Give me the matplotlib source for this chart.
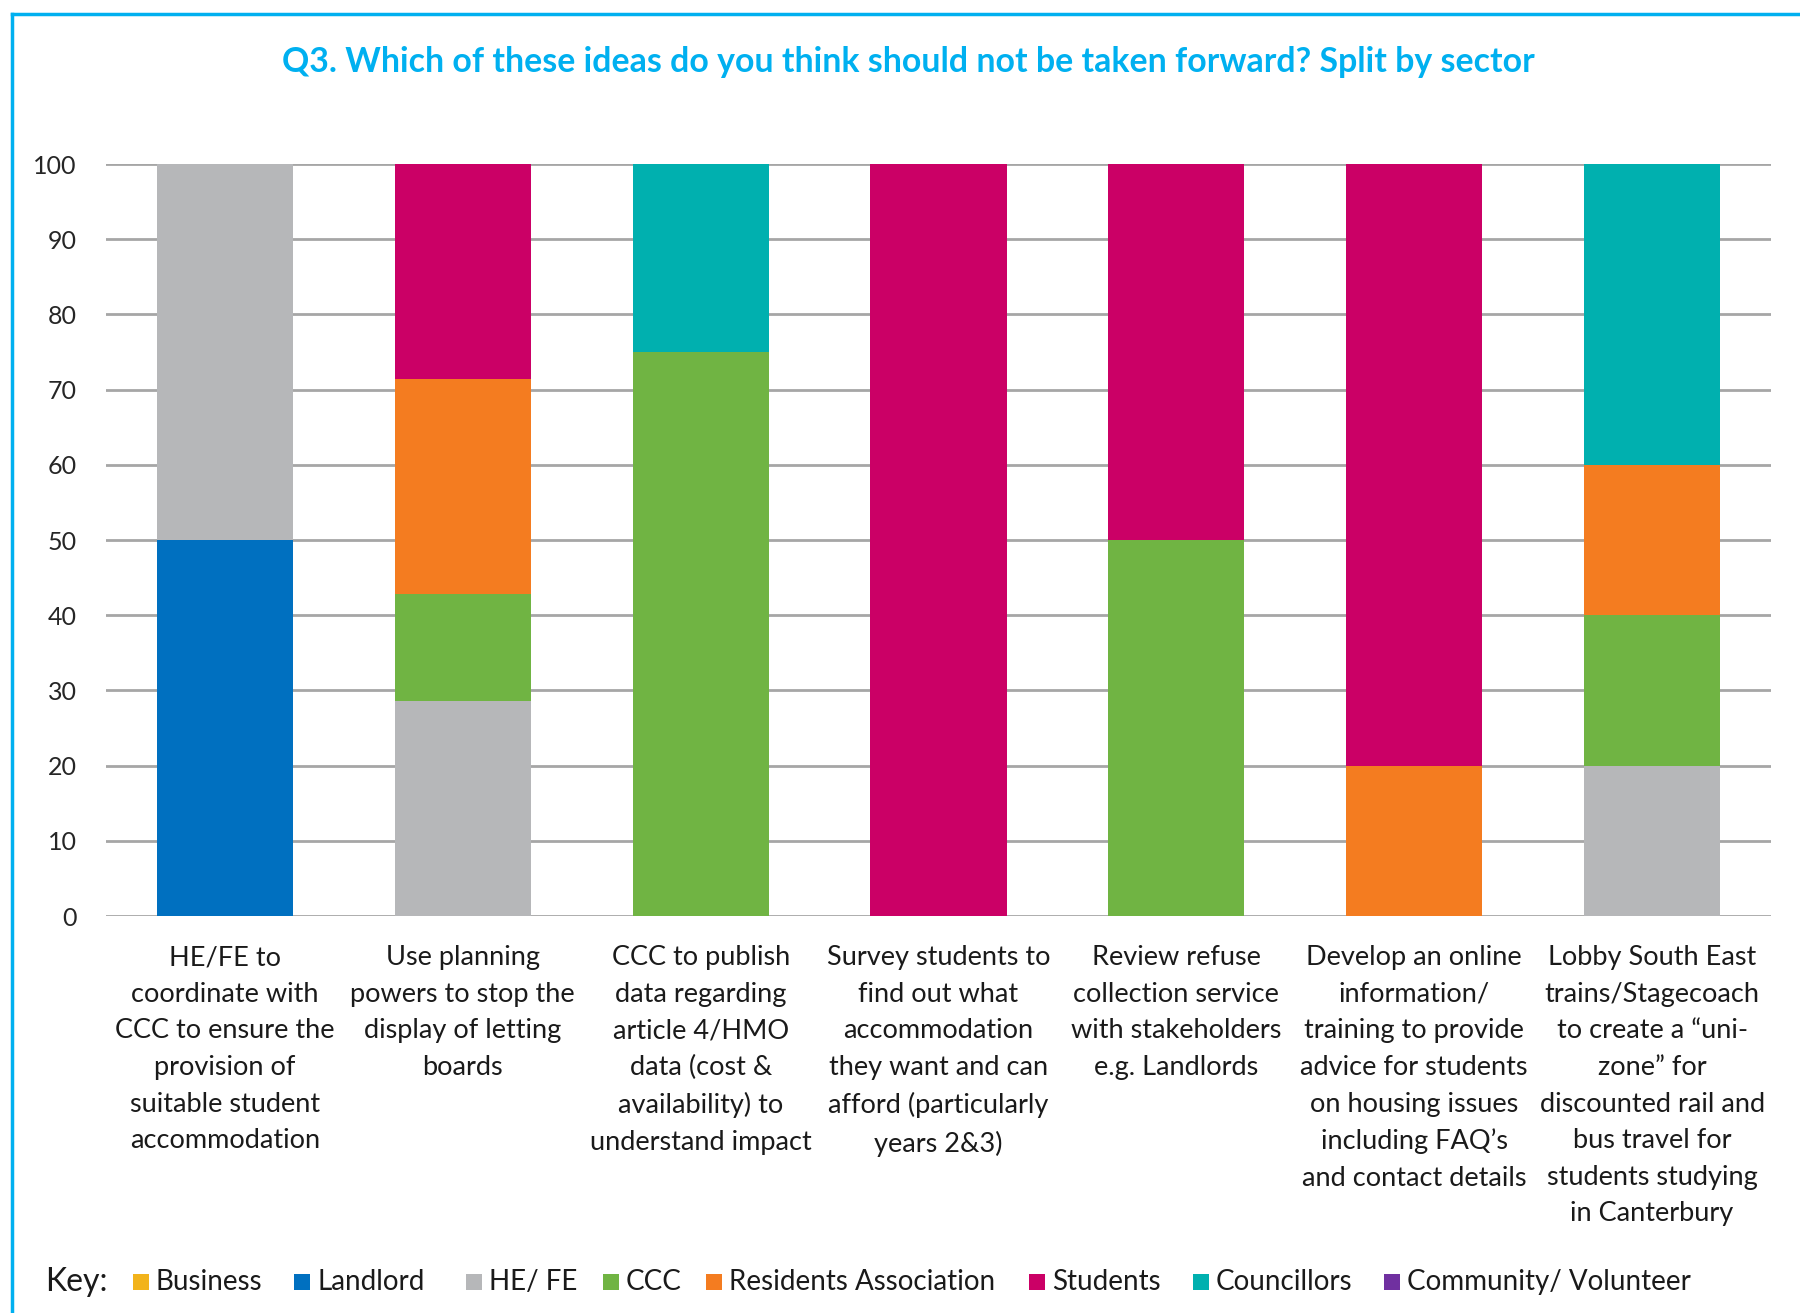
import matplotlib
matplotlib.use("Agg")
import matplotlib.pyplot as plt
from matplotlib.patches import Rectangle
from matplotlib.lines import Line2D
import numpy as np

plt.rcParams['font.family'] = ['Lato', 'DejaVu Sans']

categories = [
    "HE/FE to\ncoordinate with\nCCC to ensure the\nprovision of\nsuitable student\naccommodation",
    "Use planning\npowers to stop the\ndisplay of letting\nboards",
    "CCC to publish\ndata regarding\narticle 4/HMO\ndata (cost &\navailability) to\nunderstand impact",
    "Survey students to\nfind out what\naccommodation\nthey want and can\nafford (particularly\nyears 2&3)",
    "Review refuse\ncollection service\nwith stakeholders\ne.g. Landlords",
    "Develop an online\ninformation/\ntraining to provide\nadvice for students\non housing issues\nincluding FAQ\u2019s\nand contact details",
    "Lobby South East\ntrains/Stagecoach\nto create a \u201cuni-\nzone\u201d for\ndiscounted rail and\nbus travel for\nstudents studying\nin Canterbury",
]

sectors = ["Business", "Landlord", "HE/ FE", "CCC", "Residents Association",
           "Students", "Councillors", "Community/ Volunteer"]

business    = [0, 0, 0, 0, 0, 0, 0]
landlord    = [50, 0, 0, 0, 0, 0, 0]
he_fe       = [50, 28.57, 0, 0, 0, 0, 20]
ccc         = [0, 14.29, 75, 0, 50, 0, 20]
residents   = [0, 28.57, 0, 0, 0, 20, 20]
students    = [0, 28.57, 0, 100, 50, 80, 0]
councillors = [0, 0, 25, 0, 0, 0, 40]
community   = [0, 0, 0, 0, 0, 0, 0]

series = [business, landlord, he_fe, ccc, residents, students, councillors, community]
colors = ["#F2B31B", "#0070C0", "#B6B7B9", "#70B443", "#F47C20",
          "#CB0066", "#00B0AF", "#7030A0"]

yticks = [0, 10, 20, 30, 40, 50, 60, 70, 80, 90, 100]

W, H = 1800, 1313
fig = plt.figure(figsize=(W / 100, H / 100), dpi=100)
ax = fig.add_axes([106 / W, 1 - 916 / H, (1771 - 106) / W, (916 - 164) / H])

x = np.arange(len(categories))
bottom = np.zeros(len(categories))
for vals, col in zip(series, colors):
    v = np.array(vals, dtype=float)
    ax.bar(x, v, bottom=bottom, width=0.572, color=col, zorder=3, linewidth=0)
    bottom += v

ax.set_xlim(-0.5, len(categories) - 0.5)
ax.set_ylim(0, 100)
ax.set_yticks(yticks)
ax.set_yticklabels([str(t) for t in yticks], fontsize=18, color="#262626")
ax.set_xticks(x)
ax.set_xticklabels(categories, fontsize=19.5, color="#1a1a1a", linespacing=1.58, va="top")
ax.tick_params(axis='both', length=0)
ax.tick_params(axis='y', pad=21)
ax.tick_params(axis='x', pad=21)
ax.grid(axis='y', color="#A6A6A6", linewidth=2, zorder=0)
for s in ax.spines.values():
    s.set_visible(False)

fig.text(0.5045, 0.953, "Q3. Which of these ideas do you think should not be taken forward? Split by sector",
         ha="center", va="center", fontsize=24.4, fontweight="bold", color="#00B0F0")

# Frame
fig.add_artist(Line2D([12 / W, 1.0], [1 - 14 / H, 1 - 14 / H], color="#00B0F0", linewidth=2.5))
fig.add_artist(Line2D([12 / W, 12 / W], [0, 1 - 14 / H], color="#00B0F0", linewidth=2.5))

# Legend (key)
legend_y = 1 - 1282 / H
legend_square_px = [133, 294, 466, 603, 706, 1029, 1193, 1384]
sq = 16
fig.text(45 / W, legend_y, "Key:", fontsize=23, color="#1a1a1a", ha="left", va="center")
for px, name, col in zip(legend_square_px, sectors, colors):
    fig.add_artist(Rectangle((px / W, legend_y - (sq / 2) / H), sq / W, sq / H,
                             facecolor=col, edgecolor="none", transform=fig.transFigure))
    fig.text((px + sq + 7) / W, legend_y, name, fontsize=20, color="#1a1a1a",
             ha="left", va="center")

fig.savefig("out.png", dpi=100, facecolor="white")
